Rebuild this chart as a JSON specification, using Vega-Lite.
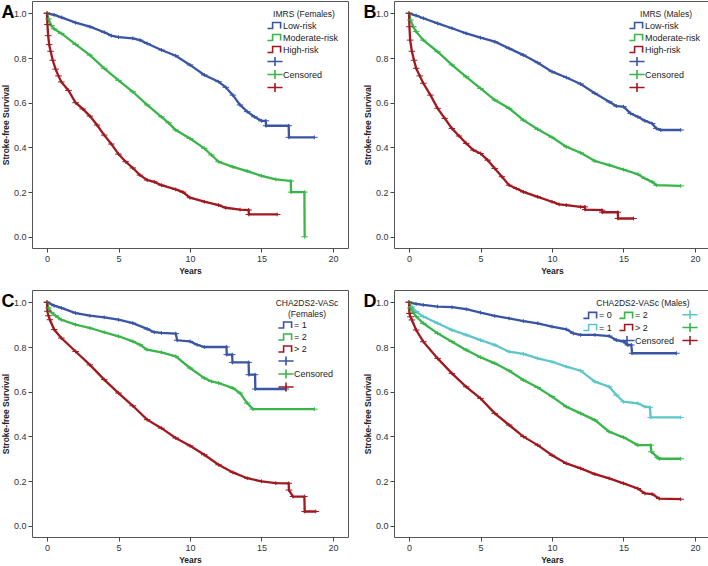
{
"$schema":"https://vega.github.io/schema/vega-lite/v6.json",
"background":"white",
"padding":{"left":0,"top":0,"right":0,"bottom":0},
"columns":2,
"spacing":{"row":14,"column":13},
"resolve":{"scale":{"color":"independent","shape":"independent","stroke":"independent"}},
"datasets":{
"A":[
{"g":"Low-risk","c":"+L","t":0,"s":1},{"g":"Low-risk","c":"+L","t":0.5,"s":0.993},{"g":"Low-risk","c":"+L","t":1,"s":0.982},{"g":"Low-risk","c":"+L","t":2,"s":0.958},{"g":"Low-risk","c":"+L","t":3,"s":0.94},{"g":"Low-risk","c":"+L","t":4,"s":0.915},{"g":"Low-risk","c":"+L","t":4.5,"s":0.9},{"g":"Low-risk","c":"+L","t":5,"s":0.893},{"g":"Low-risk","c":"+L","t":6,"s":0.888},{"g":"Low-risk","c":"+L","t":6.5,"s":0.88},{"g":"Low-risk","c":"+L","t":7,"s":0.865},{"g":"Low-risk","c":"+L","t":8,"s":0.836},{"g":"Low-risk","c":"+L","t":9,"s":0.81},{"g":"Low-risk","c":"+L","t":10,"s":0.769},{"g":"Low-risk","c":"+L","t":11,"s":0.724},{"g":"Low-risk","c":"+L","t":12,"s":0.694},{"g":"Low-risk","c":"+L","t":12.5,"s":0.669},{"g":"Low-risk","c":"+L","t":13,"s":0.634},{"g":"Low-risk","c":"+L","t":13.5,"s":0.59},{"g":"Low-risk","c":"+L","t":14,"s":0.56},{"g":"Low-risk","c":"+L","t":14.5,"s":0.537},{"g":"Low-risk","c":"+L","t":15,"s":0.519},{"g":"Low-risk","c":"+L","t":15.3,"s":0.519},{"g":"Low-risk","c":"+L","t":15.32,"s":0.497},{"g":"Low-risk","c":"+L","t":16.9,"s":0.497},{"g":"Low-risk","c":"+L","t":16.92,"s":0.445},{"g":"Low-risk","c":"+L","t":18.7,"s":0.445},
{"g":"Moderate-risk","c":"+M","t":0,"s":1},{"g":"Moderate-risk","c":"+M","t":0.1,"s":0.975},{"g":"Moderate-risk","c":"+M","t":0.3,"s":0.945},{"g":"Moderate-risk","c":"+M","t":0.5,"s":0.93},{"g":"Moderate-risk","c":"+M","t":1,"s":0.91},{"g":"Moderate-risk","c":"+M","t":2,"s":0.861},{"g":"Moderate-risk","c":"+M","t":3,"s":0.813},{"g":"Moderate-risk","c":"+M","t":4,"s":0.754},{"g":"Moderate-risk","c":"+M","t":5,"s":0.7},{"g":"Moderate-risk","c":"+M","t":6,"s":0.649},{"g":"Moderate-risk","c":"+M","t":7,"s":0.59},{"g":"Moderate-risk","c":"+M","t":8,"s":0.537},{"g":"Moderate-risk","c":"+M","t":8.5,"s":0.51},{"g":"Moderate-risk","c":"+M","t":9,"s":0.478},{"g":"Moderate-risk","c":"+M","t":10,"s":0.44},{"g":"Moderate-risk","c":"+M","t":11,"s":0.396},{"g":"Moderate-risk","c":"+M","t":11.5,"s":0.366},{"g":"Moderate-risk","c":"+M","t":12,"s":0.336},{"g":"Moderate-risk","c":"+M","t":13,"s":0.313},{"g":"Moderate-risk","c":"+M","t":14,"s":0.294},{"g":"Moderate-risk","c":"+M","t":15,"s":0.273},{"g":"Moderate-risk","c":"+M","t":16,"s":0.257},{"g":"Moderate-risk","c":"+M","t":17.05,"s":0.25},{"g":"Moderate-risk","c":"+M","t":17.07,"s":0.2},{"g":"Moderate-risk","c":"+M","t":18,"s":0.2},{"g":"Moderate-risk","c":"+M","t":18.02,"s":0},
{"g":"High-risk","c":"+H","t":0,"s":1},{"g":"High-risk","c":"+H","t":0.03,"s":0.95},{"g":"High-risk","c":"+H","t":0.08,"s":0.9},{"g":"High-risk","c":"+H","t":0.15,"s":0.86},{"g":"High-risk","c":"+H","t":0.25,"s":0.83},{"g":"High-risk","c":"+H","t":0.4,"s":0.79},{"g":"High-risk","c":"+H","t":0.6,"s":0.75},{"g":"High-risk","c":"+H","t":0.8,"s":0.72},{"g":"High-risk","c":"+H","t":1,"s":0.693},{"g":"High-risk","c":"+H","t":1.5,"s":0.655},{"g":"High-risk","c":"+H","t":2,"s":0.6},{"g":"High-risk","c":"+H","t":2.5,"s":0.572},{"g":"High-risk","c":"+H","t":3,"s":0.54},{"g":"High-risk","c":"+H","t":3.5,"s":0.5},{"g":"High-risk","c":"+H","t":4,"s":0.455},{"g":"High-risk","c":"+H","t":4.5,"s":0.415},{"g":"High-risk","c":"+H","t":5,"s":0.37},{"g":"High-risk","c":"+H","t":5.5,"s":0.336},{"g":"High-risk","c":"+H","t":6,"s":0.308},{"g":"High-risk","c":"+H","t":6.5,"s":0.276},{"g":"High-risk","c":"+H","t":7,"s":0.254},{"g":"High-risk","c":"+H","t":7.5,"s":0.246},{"g":"High-risk","c":"+H","t":8,"s":0.231},{"g":"High-risk","c":"+H","t":9,"s":0.212},{"g":"High-risk","c":"+H","t":9.5,"s":0.2},{"g":"High-risk","c":"+H","t":10,"s":0.175},{"g":"High-risk","c":"+H","t":11,"s":0.157},{"g":"High-risk","c":"+H","t":12,"s":0.142},{"g":"High-risk","c":"+H","t":12.5,"s":0.13},{"g":"High-risk","c":"+H","t":13.5,"s":0.122},{"g":"High-risk","c":"+H","t":14.1,"s":0.12},{"g":"High-risk","c":"+H","t":14.12,"s":0.1},{"g":"High-risk","c":"+H","t":16.1,"s":0.1}
],
"B":[
{"g":"Low-risk","c":"+L","t":0,"s":1},{"g":"Low-risk","c":"+L","t":0.5,"s":0.99},{"g":"Low-risk","c":"+L","t":1,"s":0.978},{"g":"Low-risk","c":"+L","t":2,"s":0.955},{"g":"Low-risk","c":"+L","t":3,"s":0.933},{"g":"Low-risk","c":"+L","t":4,"s":0.91},{"g":"Low-risk","c":"+L","t":5,"s":0.891},{"g":"Low-risk","c":"+L","t":6,"s":0.873},{"g":"Low-risk","c":"+L","t":7,"s":0.843},{"g":"Low-risk","c":"+L","t":8,"s":0.813},{"g":"Low-risk","c":"+L","t":9,"s":0.779},{"g":"Low-risk","c":"+L","t":10,"s":0.739},{"g":"Low-risk","c":"+L","t":11,"s":0.713},{"g":"Low-risk","c":"+L","t":12,"s":0.684},{"g":"Low-risk","c":"+L","t":13,"s":0.642},{"g":"Low-risk","c":"+L","t":14,"s":0.604},{"g":"Low-risk","c":"+L","t":14.5,"s":0.585},{"g":"Low-risk","c":"+L","t":15,"s":0.582},{"g":"Low-risk","c":"+L","t":15.5,"s":0.552},{"g":"Low-risk","c":"+L","t":16,"s":0.537},{"g":"Low-risk","c":"+L","t":16.5,"s":0.519},{"g":"Low-risk","c":"+L","t":17,"s":0.507},{"g":"Low-risk","c":"+L","t":17.3,"s":0.485},{"g":"Low-risk","c":"+L","t":17.6,"s":0.478},{"g":"Low-risk","c":"+L","t":19,"s":0.478},
{"g":"Moderate-risk","c":"+M","t":0,"s":1},{"g":"Moderate-risk","c":"+M","t":0.1,"s":0.97},{"g":"Moderate-risk","c":"+M","t":0.3,"s":0.94},{"g":"Moderate-risk","c":"+M","t":0.5,"s":0.918},{"g":"Moderate-risk","c":"+M","t":1,"s":0.88},{"g":"Moderate-risk","c":"+M","t":2,"s":0.828},{"g":"Moderate-risk","c":"+M","t":3,"s":0.769},{"g":"Moderate-risk","c":"+M","t":4,"s":0.716},{"g":"Moderate-risk","c":"+M","t":5,"s":0.664},{"g":"Moderate-risk","c":"+M","t":6,"s":0.612},{"g":"Moderate-risk","c":"+M","t":7,"s":0.575},{"g":"Moderate-risk","c":"+M","t":8,"s":0.522},{"g":"Moderate-risk","c":"+M","t":9,"s":0.481},{"g":"Moderate-risk","c":"+M","t":10,"s":0.445},{"g":"Moderate-risk","c":"+M","t":11,"s":0.403},{"g":"Moderate-risk","c":"+M","t":12,"s":0.376},{"g":"Moderate-risk","c":"+M","t":13,"s":0.339},{"g":"Moderate-risk","c":"+M","t":14,"s":0.321},{"g":"Moderate-risk","c":"+M","t":15,"s":0.301},{"g":"Moderate-risk","c":"+M","t":16,"s":0.28},{"g":"Moderate-risk","c":"+M","t":16.5,"s":0.261},{"g":"Moderate-risk","c":"+M","t":17,"s":0.246},{"g":"Moderate-risk","c":"+M","t":17.3,"s":0.231},{"g":"Moderate-risk","c":"+M","t":19,"s":0.228},
{"g":"High-risk","c":"+H","t":0,"s":1},{"g":"High-risk","c":"+H","t":0.03,"s":0.94},{"g":"High-risk","c":"+H","t":0.08,"s":0.88},{"g":"High-risk","c":"+H","t":0.2,"s":0.83},{"g":"High-risk","c":"+H","t":0.35,"s":0.79},{"g":"High-risk","c":"+H","t":0.5,"s":0.754},{"g":"High-risk","c":"+H","t":0.75,"s":0.72},{"g":"High-risk","c":"+H","t":1,"s":0.687},{"g":"High-risk","c":"+H","t":1.5,"s":0.634},{"g":"High-risk","c":"+H","t":2,"s":0.575},{"g":"High-risk","c":"+H","t":2.5,"s":0.53},{"g":"High-risk","c":"+H","t":3,"s":0.485},{"g":"High-risk","c":"+H","t":3.5,"s":0.451},{"g":"High-risk","c":"+H","t":4,"s":0.418},{"g":"High-risk","c":"+H","t":4.5,"s":0.388},{"g":"High-risk","c":"+H","t":5,"s":0.373},{"g":"High-risk","c":"+H","t":5.5,"s":0.343},{"g":"High-risk","c":"+H","t":6,"s":0.306},{"g":"High-risk","c":"+H","t":6.5,"s":0.269},{"g":"High-risk","c":"+H","t":7,"s":0.231},{"g":"High-risk","c":"+H","t":7.5,"s":0.216},{"g":"High-risk","c":"+H","t":8,"s":0.201},{"g":"High-risk","c":"+H","t":9,"s":0.179},{"g":"High-risk","c":"+H","t":10,"s":0.157},{"g":"High-risk","c":"+H","t":10.5,"s":0.145},{"g":"High-risk","c":"+H","t":11,"s":0.142},{"g":"High-risk","c":"+H","t":12,"s":0.134},{"g":"High-risk","c":"+H","t":12.3,"s":0.134},{"g":"High-risk","c":"+H","t":12.32,"s":0.122},{"g":"High-risk","c":"+H","t":13.5,"s":0.119},{"g":"High-risk","c":"+H","t":13.52,"s":0.11},{"g":"High-risk","c":"+H","t":14.6,"s":0.11},{"g":"High-risk","c":"+H","t":14.62,"s":0.082},{"g":"High-risk","c":"+H","t":15.7,"s":0.082}
],
"C":[
{"g":"= 1","c":"+1","t":0,"s":1},{"g":"= 1","c":"+1","t":0.5,"s":0.985},{"g":"= 1","c":"+1","t":1,"s":0.975},{"g":"= 1","c":"+1","t":2,"s":0.952},{"g":"= 1","c":"+1","t":3,"s":0.94},{"g":"= 1","c":"+1","t":4,"s":0.933},{"g":"= 1","c":"+1","t":5,"s":0.922},{"g":"= 1","c":"+1","t":6,"s":0.907},{"g":"= 1","c":"+1","t":7,"s":0.881},{"g":"= 1","c":"+1","t":7.5,"s":0.866},{"g":"= 1","c":"+1","t":8,"s":0.863},{"g":"= 1","c":"+1","t":9,"s":0.86},{"g":"= 1","c":"+1","t":9.1,"s":0.83},{"g":"= 1","c":"+1","t":10,"s":0.825},{"g":"= 1","c":"+1","t":10.5,"s":0.81},{"g":"= 1","c":"+1","t":11,"s":0.8},{"g":"= 1","c":"+1","t":12.55,"s":0.8},{"g":"= 1","c":"+1","t":12.57,"s":0.766},{"g":"= 1","c":"+1","t":12.95,"s":0.766},{"g":"= 1","c":"+1","t":12.97,"s":0.731},{"g":"= 1","c":"+1","t":14.1,"s":0.731},{"g":"= 1","c":"+1","t":14.12,"s":0.676},{"g":"= 1","c":"+1","t":14.55,"s":0.676},{"g":"= 1","c":"+1","t":14.57,"s":0.612},{"g":"= 1","c":"+1","t":16.7,"s":0.612},
{"g":"= 2","c":"+2","t":0,"s":1},{"g":"= 2","c":"+2","t":0.1,"s":0.975},{"g":"= 2","c":"+2","t":0.3,"s":0.955},{"g":"= 2","c":"+2","t":0.6,"s":0.94},{"g":"= 2","c":"+2","t":1,"s":0.922},{"g":"= 2","c":"+2","t":2,"s":0.9},{"g":"= 2","c":"+2","t":3,"s":0.885},{"g":"= 2","c":"+2","t":4,"s":0.866},{"g":"= 2","c":"+2","t":5,"s":0.848},{"g":"= 2","c":"+2","t":6,"s":0.825},{"g":"= 2","c":"+2","t":6.5,"s":0.81},{"g":"= 2","c":"+2","t":7,"s":0.788},{"g":"= 2","c":"+2","t":8,"s":0.776},{"g":"= 2","c":"+2","t":9,"s":0.758},{"g":"= 2","c":"+2","t":10,"s":0.706},{"g":"= 2","c":"+2","t":11,"s":0.661},{"g":"= 2","c":"+2","t":11.5,"s":0.646},{"g":"= 2","c":"+2","t":12,"s":0.639},{"g":"= 2","c":"+2","t":13,"s":0.616},{"g":"= 2","c":"+2","t":13.5,"s":0.594},{"g":"= 2","c":"+2","t":14,"s":0.549},{"g":"= 2","c":"+2","t":14.4,"s":0.522},{"g":"= 2","c":"+2","t":18.7,"s":0.522},
{"g":"> 2","c":"+3","t":0,"s":1},{"g":"> 2","c":"+3","t":0.03,"s":0.96},{"g":"> 2","c":"+3","t":0.1,"s":0.94},{"g":"> 2","c":"+3","t":0.2,"s":0.922},{"g":"> 2","c":"+3","t":0.5,"s":0.878},{"g":"> 2","c":"+3","t":1,"s":0.84},{"g":"> 2","c":"+3","t":2,"s":0.78},{"g":"> 2","c":"+3","t":3,"s":0.72},{"g":"> 2","c":"+3","t":4,"s":0.654},{"g":"> 2","c":"+3","t":5,"s":0.594},{"g":"> 2","c":"+3","t":6,"s":0.537},{"g":"> 2","c":"+3","t":7,"s":0.475},{"g":"> 2","c":"+3","t":8,"s":0.437},{"g":"> 2","c":"+3","t":9,"s":0.393},{"g":"> 2","c":"+3","t":10,"s":0.358},{"g":"> 2","c":"+3","t":11,"s":0.318},{"g":"> 2","c":"+3","t":12,"s":0.273},{"g":"> 2","c":"+3","t":13,"s":0.239},{"g":"> 2","c":"+3","t":14,"s":0.213},{"g":"> 2","c":"+3","t":15,"s":0.199},{"g":"> 2","c":"+3","t":16,"s":0.191},{"g":"> 2","c":"+3","t":16.9,"s":0.19},{"g":"> 2","c":"+3","t":16.92,"s":0.16},{"g":"> 2","c":"+3","t":17.2,"s":0.131},{"g":"> 2","c":"+3","t":18,"s":0.131},{"g":"> 2","c":"+3","t":18.02,"s":0.064},{"g":"> 2","c":"+3","t":18.8,"s":0.064}
],
"D":[
{"g":"= 0","c":"+0","t":0,"s":1},{"g":"= 0","c":"+0","t":0.5,"s":0.993},{"g":"= 0","c":"+0","t":1,"s":0.988},{"g":"= 0","c":"+0","t":2,"s":0.981},{"g":"= 0","c":"+0","t":3,"s":0.978},{"g":"= 0","c":"+0","t":4,"s":0.969},{"g":"= 0","c":"+0","t":5,"s":0.954},{"g":"= 0","c":"+0","t":6,"s":0.939},{"g":"= 0","c":"+0","t":7,"s":0.928},{"g":"= 0","c":"+0","t":8,"s":0.916},{"g":"= 0","c":"+0","t":9,"s":0.906},{"g":"= 0","c":"+0","t":10,"s":0.891},{"g":"= 0","c":"+0","t":11,"s":0.879},{"g":"= 0","c":"+0","t":11.5,"s":0.861},{"g":"= 0","c":"+0","t":12,"s":0.854},{"g":"= 0","c":"+0","t":13,"s":0.854},{"g":"= 0","c":"+0","t":14,"s":0.849},{"g":"= 0","c":"+0","t":14.5,"s":0.831},{"g":"= 0","c":"+0","t":15,"s":0.824},{"g":"= 0","c":"+0","t":15.3,"s":0.809},{"g":"= 0","c":"+0","t":15.55,"s":0.809},{"g":"= 0","c":"+0","t":15.6,"s":0.772},{"g":"= 0","c":"+0","t":18.7,"s":0.772},
{"g":"= 1","c":"+1","t":0,"s":1},{"g":"= 1","c":"+1","t":0.2,"s":0.98},{"g":"= 1","c":"+1","t":0.5,"s":0.958},{"g":"= 1","c":"+1","t":1,"s":0.936},{"g":"= 1","c":"+1","t":2,"s":0.906},{"g":"= 1","c":"+1","t":3,"s":0.876},{"g":"= 1","c":"+1","t":4,"s":0.854},{"g":"= 1","c":"+1","t":5,"s":0.831},{"g":"= 1","c":"+1","t":6,"s":0.809},{"g":"= 1","c":"+1","t":7,"s":0.779},{"g":"= 1","c":"+1","t":8,"s":0.769},{"g":"= 1","c":"+1","t":9,"s":0.749},{"g":"= 1","c":"+1","t":10,"s":0.734},{"g":"= 1","c":"+1","t":11,"s":0.712},{"g":"= 1","c":"+1","t":12,"s":0.694},{"g":"= 1","c":"+1","t":13,"s":0.645},{"g":"= 1","c":"+1","t":14,"s":0.622},{"g":"= 1","c":"+1","t":14.5,"s":0.585},{"g":"= 1","c":"+1","t":15,"s":0.555},{"g":"= 1","c":"+1","t":16,"s":0.548},{"g":"= 1","c":"+1","t":16.5,"s":0.533},{"g":"= 1","c":"+1","t":16.85,"s":0.53},{"g":"= 1","c":"+1","t":16.9,"s":0.485},{"g":"= 1","c":"+1","t":19,"s":0.485},
{"g":"= 2","c":"+2","t":0,"s":1},{"g":"= 2","c":"+2","t":0.1,"s":0.975},{"g":"= 2","c":"+2","t":0.3,"s":0.955},{"g":"= 2","c":"+2","t":0.5,"s":0.936},{"g":"= 2","c":"+2","t":1,"s":0.906},{"g":"= 2","c":"+2","t":2,"s":0.861},{"g":"= 2","c":"+2","t":3,"s":0.824},{"g":"= 2","c":"+2","t":4,"s":0.787},{"g":"= 2","c":"+2","t":5,"s":0.754},{"g":"= 2","c":"+2","t":6,"s":0.727},{"g":"= 2","c":"+2","t":7,"s":0.694},{"g":"= 2","c":"+2","t":8,"s":0.652},{"g":"= 2","c":"+2","t":9,"s":0.619},{"g":"= 2","c":"+2","t":10,"s":0.578},{"g":"= 2","c":"+2","t":11,"s":0.533},{"g":"= 2","c":"+2","t":12,"s":0.503},{"g":"= 2","c":"+2","t":13,"s":0.473},{"g":"= 2","c":"+2","t":14,"s":0.421},{"g":"= 2","c":"+2","t":15,"s":0.396},{"g":"= 2","c":"+2","t":16,"s":0.361},{"g":"= 2","c":"+2","t":16.9,"s":0.361},{"g":"= 2","c":"+2","t":16.95,"s":0.331},{"g":"= 2","c":"+2","t":17.4,"s":0.306},{"g":"= 2","c":"+2","t":17.5,"s":0.3},{"g":"= 2","c":"+2","t":19,"s":0.3},
{"g":"> 2","c":"+3","t":0,"s":1},{"g":"> 2","c":"+3","t":0.03,"s":0.95},{"g":"> 2","c":"+3","t":0.1,"s":0.935},{"g":"> 2","c":"+3","t":0.2,"s":0.921},{"g":"> 2","c":"+3","t":0.5,"s":0.876},{"g":"> 2","c":"+3","t":1,"s":0.824},{"g":"> 2","c":"+3","t":2,"s":0.749},{"g":"> 2","c":"+3","t":3,"s":0.682},{"g":"> 2","c":"+3","t":4,"s":0.622},{"g":"> 2","c":"+3","t":5,"s":0.57},{"g":"> 2","c":"+3","t":6,"s":0.503},{"g":"> 2","c":"+3","t":7,"s":0.451},{"g":"> 2","c":"+3","t":8,"s":0.399},{"g":"> 2","c":"+3","t":9,"s":0.361},{"g":"> 2","c":"+3","t":10,"s":0.316},{"g":"> 2","c":"+3","t":11,"s":0.279},{"g":"> 2","c":"+3","t":12,"s":0.257},{"g":"> 2","c":"+3","t":13,"s":0.231},{"g":"> 2","c":"+3","t":14,"s":0.212},{"g":"> 2","c":"+3","t":15,"s":0.19},{"g":"> 2","c":"+3","t":16,"s":0.167},{"g":"> 2","c":"+3","t":16.5,"s":0.145},{"g":"> 2","c":"+3","t":17,"s":0.142},{"g":"> 2","c":"+3","t":17.5,"s":0.122},{"g":"> 2","c":"+3","t":19,"s":0.119}
]
},
"concat":[
{
"data":{"name":"A"},
"title":{"text":"A"},
"width":316,"height":247,
"encoding":{
"x":{"field":"t","type":"quantitative","scale":{"domain":[-1.05,21.05],"nice":false,"zero":false},"axis":{"values":[0,5,10,15,20],"title":"Years"}},
"y":{"field":"s","type":"quantitative","scale":{"domain":[-0.05,1.055],"nice":false,"zero":false},"axis":{"values":[0,0.2,0.4,0.6,0.8,1],"format":".1f","title":"Stroke-free Survival"}}
},
"layer":[
{"mark":{"type":"line","strokeWidth":2.3},
"encoding":{"stroke":{"field":"g","type":"nominal","scale":{"domain":["Low-risk","Moderate-risk","High-risk"],"range":["#3a55a4","#39b54a","#a0191f"]},"legend":null}}},
{"mark":{"type":"point","filled":false,"size":12,"strokeWidth":1,"opacity":1},
"encoding":{
"color":{"field":"c","type":"nominal","scale":{"domain":["Low-risk","Moderate-risk","High-risk","+L","+M","+H"],"range":["#3a55a4","#39b54a","#a0191f","#3a55a4","#39b54a","#a0191f"]},
"legend":{"title":"IMRS (Females)","labelExpr":"datum.value == '+M' ? 'Censored' : slice(datum.value,0,1) == '+' ? '' : datum.label"}},
"shape":{"field":"c","type":"nominal","scale":{"domain":["Low-risk","Moderate-risk","High-risk","+L","+M","+H"],"range":["M-1.9,0.75L-0.6,0.75L-0.6,-0.75L1.4,-0.75L1.4,0.75","M-1.9,0.75L-0.6,0.75L-0.6,-0.75L1.4,-0.75L1.4,0.75","M-1.9,0.75L-0.6,0.75L-0.6,-0.75L1.4,-0.75L1.4,0.75","M-1.9,0L1.9,0M0,-1.1L0,1.1","M-1.9,0L1.9,0M0,-1.1L0,1.1","M-1.9,0L1.9,0M0,-1.1L0,1.1"]},
"legend":{"title":"IMRS (Females)","labelExpr":"datum.value == '+M' ? 'Censored' : slice(datum.value,0,1) == '+' ? '' : datum.label"}}
}}
]
},
{
"data":{"name":"B"},
"title":{"text":"B"},
"width":316,"height":247,
"encoding":{
"x":{"field":"t","type":"quantitative","scale":{"domain":[-1.05,21.05],"nice":false,"zero":false},"axis":{"values":[0,5,10,15,20],"title":"Years"}},
"y":{"field":"s","type":"quantitative","scale":{"domain":[-0.05,1.055],"nice":false,"zero":false},"axis":{"values":[0,0.2,0.4,0.6,0.8,1],"format":".1f","title":"Stroke-free Survival"}}
},
"layer":[
{"mark":{"type":"line","strokeWidth":2.3},
"encoding":{"stroke":{"field":"g","type":"nominal","scale":{"domain":["Low-risk","Moderate-risk","High-risk"],"range":["#3a55a4","#39b54a","#a0191f"]},"legend":null}}},
{"mark":{"type":"point","filled":false,"size":12,"strokeWidth":1,"opacity":1},
"encoding":{
"color":{"field":"c","type":"nominal","scale":{"domain":["Low-risk","Moderate-risk","High-risk","+L","+M","+H"],"range":["#3a55a4","#39b54a","#a0191f","#3a55a4","#39b54a","#a0191f"]},
"legend":{"title":"IMRS (Males)","labelExpr":"datum.value == '+M' ? 'Censored' : slice(datum.value,0,1) == '+' ? '' : datum.label"}},
"shape":{"field":"c","type":"nominal","scale":{"domain":["Low-risk","Moderate-risk","High-risk","+L","+M","+H"],"range":["M-1.9,0.75L-0.6,0.75L-0.6,-0.75L1.4,-0.75L1.4,0.75","M-1.9,0.75L-0.6,0.75L-0.6,-0.75L1.4,-0.75L1.4,0.75","M-1.9,0.75L-0.6,0.75L-0.6,-0.75L1.4,-0.75L1.4,0.75","M-1.9,0L1.9,0M0,-1.1L0,1.1","M-1.9,0L1.9,0M0,-1.1L0,1.1","M-1.9,0L1.9,0M0,-1.1L0,1.1"]},
"legend":{"title":"IMRS (Males)","labelExpr":"datum.value == '+M' ? 'Censored' : slice(datum.value,0,1) == '+' ? '' : datum.label"}}
}}
]
},
{
"data":{"name":"C"},
"title":{"text":"C"},
"width":316,"height":247,
"encoding":{
"x":{"field":"t","type":"quantitative","scale":{"domain":[-1.05,21.05],"nice":false,"zero":false},"axis":{"values":[0,5,10,15,20],"title":"Years"}},
"y":{"field":"s","type":"quantitative","scale":{"domain":[-0.05,1.055],"nice":false,"zero":false},"axis":{"values":[0,0.2,0.4,0.6,0.8,1],"format":".1f","title":"Stroke-free Survival"}}
},
"layer":[
{"mark":{"type":"line","strokeWidth":2.3},
"encoding":{"stroke":{"field":"g","type":"nominal","scale":{"domain":["= 1","= 2","> 2"],"range":["#3a55a4","#39b54a","#a0191f"]},"legend":null}}},
{"mark":{"type":"point","filled":false,"size":12,"strokeWidth":1,"opacity":1},
"encoding":{
"color":{"field":"c","type":"nominal","scale":{"domain":["= 1","= 2","> 2","+1","+2","+3"],"range":["#3a55a4","#39b54a","#a0191f","#3a55a4","#39b54a","#a0191f"]},
"legend":{"title":["CHA2DS2-VASc","(Females)"],"labelExpr":"datum.value == '+2' ? 'Censored' : slice(datum.value,0,1) == '+' ? '' : datum.label"}},
"shape":{"field":"c","type":"nominal","scale":{"domain":["= 1","= 2","> 2","+1","+2","+3"],"range":["M-1.9,0.75L-0.6,0.75L-0.6,-0.75L1.4,-0.75L1.4,0.75","M-1.9,0.75L-0.6,0.75L-0.6,-0.75L1.4,-0.75L1.4,0.75","M-1.9,0.75L-0.6,0.75L-0.6,-0.75L1.4,-0.75L1.4,0.75","M-1.9,0L1.9,0M0,-1.1L0,1.1","M-1.9,0L1.9,0M0,-1.1L0,1.1","M-1.9,0L1.9,0M0,-1.1L0,1.1"]},
"legend":{"title":["CHA2DS2-VASc","(Females)"],"labelExpr":"datum.value == '+2' ? 'Censored' : slice(datum.value,0,1) == '+' ? '' : datum.label"}}
}}
]
},
{
"data":{"name":"D"},
"title":{"text":"D"},
"width":316,"height":247,
"encoding":{
"x":{"field":"t","type":"quantitative","scale":{"domain":[-1.05,21.05],"nice":false,"zero":false},"axis":{"values":[0,5,10,15,20],"title":"Years"}},
"y":{"field":"s","type":"quantitative","scale":{"domain":[-0.05,1.055],"nice":false,"zero":false},"axis":{"values":[0,0.2,0.4,0.6,0.8,1],"format":".1f","title":"Stroke-free Survival"}}
},
"layer":[
{"mark":{"type":"line","strokeWidth":2.3},
"encoding":{"stroke":{"field":"g","type":"nominal","scale":{"domain":["= 0","= 1","= 2","> 2"],"range":["#3a55a4","#5cc6c8","#39b54a","#a0191f"]},"legend":null}}},
{"mark":{"type":"point","filled":false,"size":12,"strokeWidth":1,"opacity":1},
"encoding":{
"color":{"field":"c","type":"nominal","scale":{"domain":["= 0","= 1","+x","= 2","> 2","+0","+1","+2","+3"],"range":["#3a55a4","#5cc6c8","transparent","#39b54a","#a0191f","#3a55a4","#5cc6c8","#39b54a","#a0191f"]},
"legend":{"title":"CHA2DS2-VASc (Males)","columns":3,"labelExpr":"datum.value == '+0' ? 'Censored' : slice(datum.value,0,1) == '+' ? '' : datum.label"}},
"shape":{"field":"c","type":"nominal","scale":{"domain":["= 0","= 1","+x","= 2","> 2","+0","+1","+2","+3"],"range":["M-1.9,0.75L-0.6,0.75L-0.6,-0.75L1.4,-0.75L1.4,0.75","M-1.9,0.75L-0.6,0.75L-0.6,-0.75L1.4,-0.75L1.4,0.75","M-1.9,0L1.9,0M0,-1.1L0,1.1","M-1.9,0.75L-0.6,0.75L-0.6,-0.75L1.4,-0.75L1.4,0.75","M-1.9,0.75L-0.6,0.75L-0.6,-0.75L1.4,-0.75L1.4,0.75","M-1.9,0L1.9,0M0,-1.1L0,1.1","M-1.9,0L1.9,0M0,-1.1L0,1.1","M-1.9,0L1.9,0M0,-1.1L0,1.1","M-1.9,0L1.9,0M0,-1.1L0,1.1"]},
"legend":{"title":"CHA2DS2-VASc (Males)","columns":3,"labelExpr":"datum.value == '+0' ? 'Censored' : slice(datum.value,0,1) == '+' ? '' : datum.label"}}
}}
]
}
],
"config":{
"view":{"stroke":"#555","strokeWidth":1},
"axis":{"domain":false,"grid":false,"labelFont":"Liberation Sans","labelFontSize":9,"labelColor":"#333","tickColor":"#444","tickSize":4,"labelPadding":2,"titleFont":"Liberation Sans","titleFontSize":8.5,"titleFontWeight":"bold","titleColor":"#222","titlePadding":3},
"legend":{"orient":"top-right","offset":9,"padding":0,"labelFont":"Liberation Sans","labelFontSize":9,"labelColor":"#222","titleFont":"Liberation Sans","titleFontSize":8.5,"titleFontWeight":"normal","titleColor":"#222","titleAnchor":"middle","titleAlign":"center","titlePadding":2,"symbolSize":64,"symbolStrokeWidth":1.6,"labelOffset":3,"rowPadding":-6,"columnPadding":4,"labelLimit":200},
"title":{"font":"Liberation Sans","fontSize":18,"fontWeight":"bold","color":"#000","anchor":"start","frame":"bounds","offset":-19,"dy":2,"baseline":"alphabetic"}
}
}
